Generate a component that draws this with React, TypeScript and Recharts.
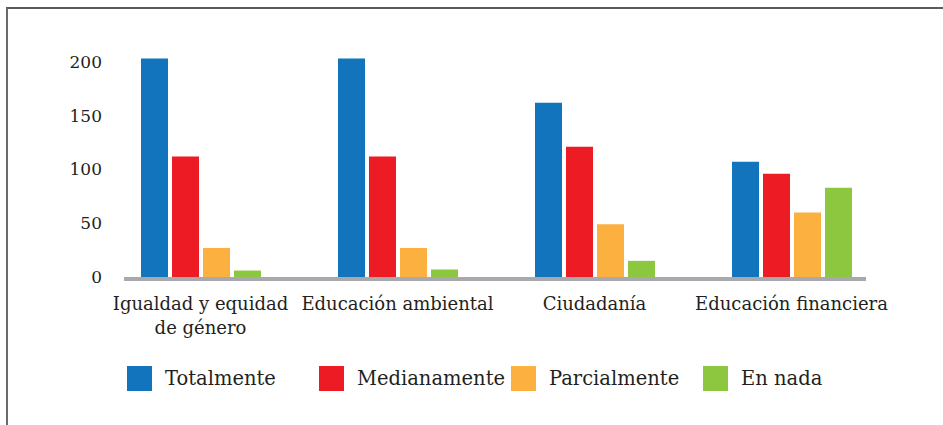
import { BarChart, Bar, XAxis, YAxis, Legend } from "recharts";

const categories = ["Igualdad y equidad\nde género", "Educación ambiental", "Ciudadanía", "Educación financiera"];
const totalmente = [203, 203, 162, 107];
const medianamente = [112, 112, 121, 96];
const parcialmente = [27, 27, 49, 60];
const enNada = [6, 7, 15, 83];
const yTicks = [0, 50, 100, 150, 200];

const seriesNames = ["Totalmente", "Medianamente", "Parcialmente", "En nada"];
const seriesColors = ["#1174bc", "#ed1c24", "#fbb040", "#8dc63f"];

const data = categories.map((c, i) => ({
  name: c,
  totalmente: totalmente[i],
  medianamente: medianamente[i],
  parcialmente: parcialmente[i],
  enNada: enNada[i],
}));

const FONT = "DejaVu Serif";
const INK = "#231f20";

function CategoryTick({ x, y, payload }: any) {
  const lines = String(payload.value).split("\n");
  return (
    <text x={x} y={y} textAnchor="middle" fill={INK} fontFamily={FONT} fontSize={18}>
      {lines.map((l, i) => (
        <tspan key={i} x={x} dy={i === 0 ? 33 : 24}>
          {l}
        </tspan>
      ))}
    </text>
  );
}

function LegendContent() {
  return (
    <div style={{ display: "flex", fontFamily: FONT, fontSize: 19.5, color: INK }}>
      {seriesNames.map((n, i) => (
        <div key={n} style={{ width: 192, height: 25, display: "flex", alignItems: "center" }}>
          <span style={{ width: 25, height: 25, background: seriesColors[i], marginRight: 13, flex: "none" }} />
          <span style={{ whiteSpace: "nowrap", lineHeight: "25px" }}>{n}</span>
        </div>
      ))}
    </div>
  );
}

export default function App() {
  return (
    <div style={{ position: "absolute", left: 0, top: 0, width: 943, height: 425, overflow: "hidden", background: "#fff" }}>
      <div
        style={{
          position: "absolute",
          left: 6,
          top: 7,
          width: 950,
          height: 430,
          borderTop: "2px solid #5a5a5a",
          borderLeft: "2px solid #6a6a6a",
        }}
      />
      <div style={{ position: "absolute", left: 0, top: 0 }}>
        <BarChart
          width={943}
          height={425}
          data={data}
          margin={{ top: 51, right: 77, bottom: 88, left: 0 }}
          barSize={27}
          barGap={4}
        >
          <XAxis
            dataKey="name"
            axisLine={{ stroke: "#a7a9ac", strokeWidth: 4, transform: "translate(0 2)" }}
            padding={{ left: -22, right: -24 }}
            tickLine={false}
            tickSize={0}
            tickMargin={0}
            interval={0}
            height={60}
            tick={<CategoryTick />}
          />
          <YAxis
            domain={[0, 210]}
            ticks={yTicks}
            axisLine={false}
            tickLine={false}
            tickSize={0}
            tickMargin={22}
            width={124}
            tick={{ fill: INK, fontFamily: FONT, fontSize: 17 }}
          />
          <Bar dataKey="totalmente" name={seriesNames[0]} fill={seriesColors[0]} isAnimationActive={false} />
          <Bar dataKey="medianamente" name={seriesNames[1]} fill={seriesColors[1]} isAnimationActive={false} />
          <Bar dataKey="parcialmente" name={seriesNames[2]} fill={seriesColors[2]} isAnimationActive={false} />
          <Bar dataKey="enNada" name={seriesNames[3]} fill={seriesColors[3]} isAnimationActive={false} />
          <Legend
            verticalAlign="middle"
            content={<LegendContent />}
            wrapperStyle={{ top: 366, left: 127, width: 780, height: 25 }}
          />
        </BarChart>
      </div>
    </div>
  );
}
